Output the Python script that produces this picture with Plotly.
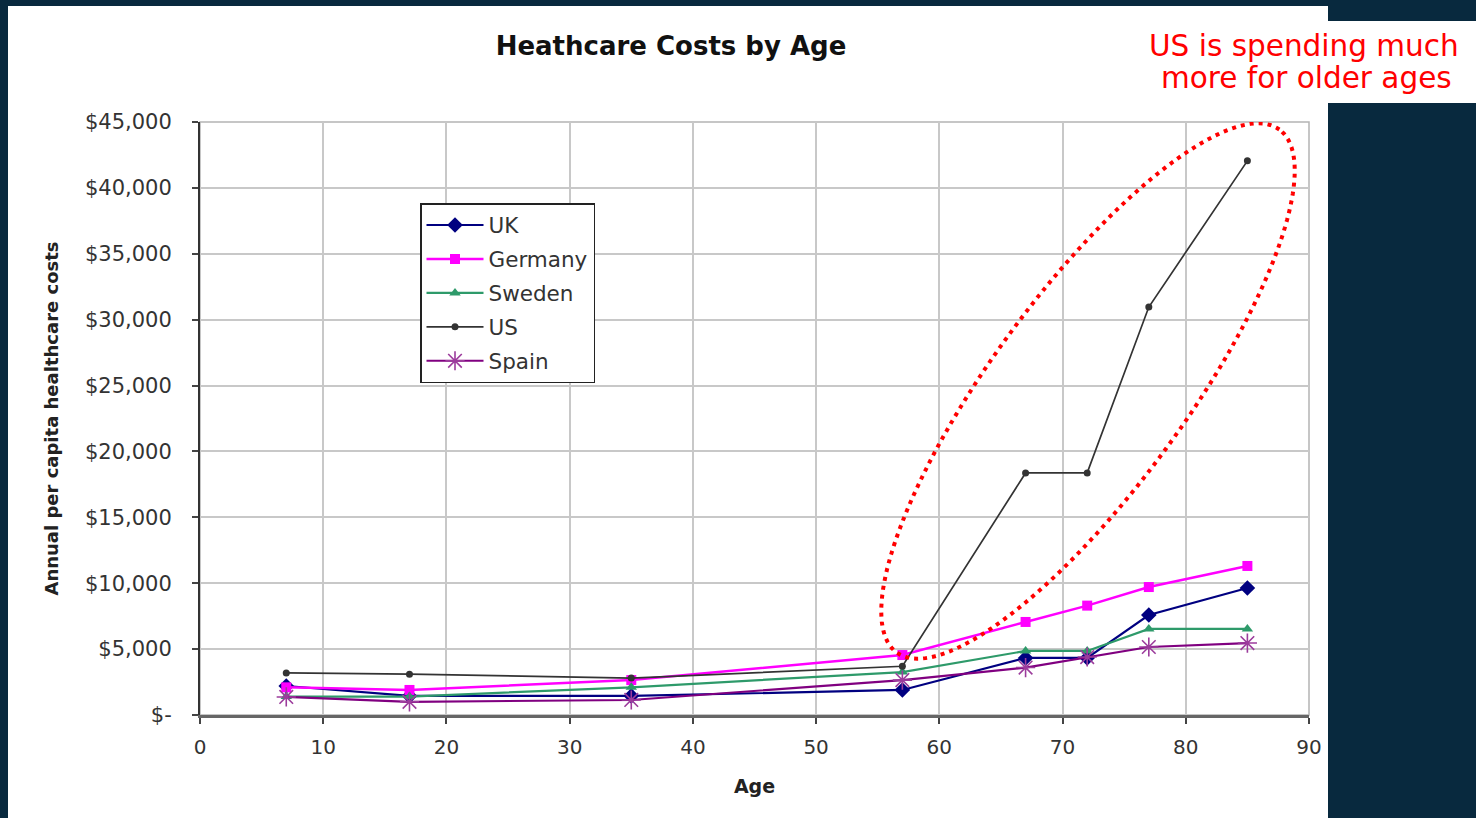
import numpy as np
import plotly.graph_objects as go

# ---------------- data ----------------
ages = [7, 17, 35, 57, 67, 72, 77, 85]
uk = [2200, 1450, 1450, 1900, 4330, 4330, 7590, 9640]
germany = [2100, 1900, 2650, 4550, 7060, 8300, 9710, 11310]
sweden = [1400, 1400, 2100, 3260, 4860, 4860, 6530, 6530]
us = [3190, 3100, 2800, 3700, 18370, 18370, 30960, 42050]
spain = [1370, 1000, 1140, 2650, 3600, 4400, 5160, 5460]

x_ticks = [0, 10, 20, 30, 40, 50, 60, 70, 80, 90]
y_ticks = [0, 5000, 10000, 15000, 20000, 25000, 30000, 35000, 40000, 45000]
y_ticktext = ["$-", "$5,000", "$10,000", "$15,000", "$20,000", "$25,000",
              "$30,000", "$35,000", "$40,000", "$45,000"]

# ---------------- layout geometry (pixels) ----------------
W, H = 1476, 818
L, R, T, B = 200, 1309, 122, 715
XMAX, YMAX = 90, 45000
FONT = "DejaVu Sans"


def px2paper_x(px):
    return (px - L) / (R - L)


def px2paper_y(py):
    return (B - py) / (B - T)


fig = go.Figure()

series = [
    ("UK", uk, dict(color="#000080", width=2.2),
     dict(symbol="diamond", size=12, color="#000080")),
    ("Germany", germany, dict(color="#FF00FF", width=2.5),
     dict(symbol="square", size=10, color="#FF00FF")),
    ("Sweden", sweden, dict(color="#2E9A6A", width=2.2),
     dict(symbol="triangle-up", size=10, color="#2E9A6A")),
    ("US", us, dict(color="#333333", width=1.7),
     dict(symbol="circle", size=7, color="#333333")),
    ("Spain", spain, dict(color="#800080", width=2.2),
     dict(symbol="asterisk-open", size=16, color="#9C3C9C",
          line=dict(color="#9C3C9C", width=1.6))),
]

for i, (name, vals, line, marker) in enumerate(series):
    fig.add_trace(go.Scatter(
        x=ages, y=vals, name=name, mode="lines+markers",
        line=line, marker=marker, legendgroup=f"g{i}",
    ))

# ---------------- dotted red ellipse (annotation) ----------------
cx, cy, a_ax, b_ax, phi = 1088, 391, 324, 97, np.deg2rad(53.8)
t = np.linspace(0, 2 * np.pi, 181)
ex = cx + a_ax * np.cos(t) * np.cos(phi) - b_ax * np.sin(t) * np.sin(phi)
ey = cy - (a_ax * np.cos(t) * np.sin(phi) + b_ax * np.sin(t) * np.cos(phi))
dx = (ex - L) / (R - L) * XMAX
dy = (B - ey) / (B - T) * YMAX
path = "M " + " L ".join(f"{xx:.4f},{yy:.2f}" for xx, yy in zip(dx, dy)) + " Z"

shapes = [
    # white slide panel
    dict(type="rect", xref="paper", yref="paper", layer="below",
         x0=px2paper_x(8), x1=px2paper_x(1328), y0=px2paper_y(6), y1=px2paper_y(830),
         fillcolor="white", line=dict(width=0)),
    # white box for the red note
    dict(type="rect", xref="paper", yref="paper", layer="below",
         x0=px2paper_x(1320), x1=px2paper_x(1490), y0=px2paper_y(21), y1=px2paper_y(103),
         fillcolor="white", line=dict(width=0)),
    # plot area border
    dict(type="rect", xref="paper", yref="paper", layer="below",
         x0=0, x1=1, y0=0, y1=1, fillcolor="rgba(0,0,0,0)",
         line=dict(color="#b4b4b4", width=1.5)),
    dict(type="path", xref="x", yref="y", layer="above", path=path,
         line=dict(color="#FF0000", width=4, dash="4px,5px")),
]

annotations = [
    dict(text="US is spending much", xref="paper", yref="paper",
         x=px2paper_x(1304), y=px2paper_y(46), xanchor="center", yanchor="middle",
         showarrow=False, font=dict(family=FONT, size=29.5, color="#FF0000")),
    dict(text="more for older ages", xref="paper", yref="paper",
         x=px2paper_x(1306), y=px2paper_y(78), xanchor="center", yanchor="middle",
         showarrow=False, font=dict(family=FONT, size=29.5, color="#FF0000")),
]

fig.update_layout(
    width=W, height=H,
    margin=dict(l=L, r=W - R, t=T, b=H - B, pad=0),
    paper_bgcolor="#08293e",
    plot_bgcolor="rgba(0,0,0,0)",
    title=dict(text="<b>Heathcare Costs by Age</b>", x=671 / W, xref="container",
               xanchor="center", y=1 - 46 / H, yref="container", yanchor="middle",
               font=dict(family=FONT, size=26, color="#111111")),
    font=dict(family=FONT, color="#333333"),
    shapes=shapes,
    annotations=annotations,
    showlegend=True,
    legend=dict(
        x=px2paper_x(420), y=px2paper_y(203), xanchor="left", yanchor="top",
        bgcolor="white", bordercolor="#222222", borderwidth=1.5,
        font=dict(family=FONT, size=21.5, color="#333333"),
        tracegroupgap=3, itemwidth=57, traceorder="grouped",
    ),
    xaxis=dict(
        range=[0, XMAX], tickvals=x_ticks, ticktext=[str(v) for v in x_ticks],
        ticks="outside", ticklen=6, tickwidth=1.5, tickcolor="#444444",
        showgrid=True, gridcolor="#c8c8c8", gridwidth=1.5,
        showline=True, linecolor="#666666", linewidth=2.5, zeroline=False,
        tickfont=dict(family=FONT, size=20, color="#333333"),
        ticklabelstandoff=6,
        title=dict(text="<b>Age</b>", standoff=22,
                   font=dict(family=FONT, size=19, color="#222222")),
    ),
    yaxis=dict(
        range=[0, YMAX], tickvals=y_ticks, ticktext=y_ticktext,
        ticks="outside", ticklen=6, tickwidth=1.5, tickcolor="#444444",
        showgrid=True, gridcolor="#c8c8c8", gridwidth=1.5,
        showline=True, linecolor="#333333", linewidth=2, zeroline=False,
        tickfont=dict(family=FONT, size=21, color="#333333"),
        ticklabelstandoff=16,
        title=dict(text="<b>Annual per capita healthcare costs</b>", standoff=22,
                   font=dict(family=FONT, size=18, color="#222222")),
    ),
)

fig.write_html(
    "out.html",
    config={"displayModeBar": False},
    post_script="document.body.style.margin='0';document.body.style.padding='0';"
                "document.body.style.overflow='hidden';",
)
